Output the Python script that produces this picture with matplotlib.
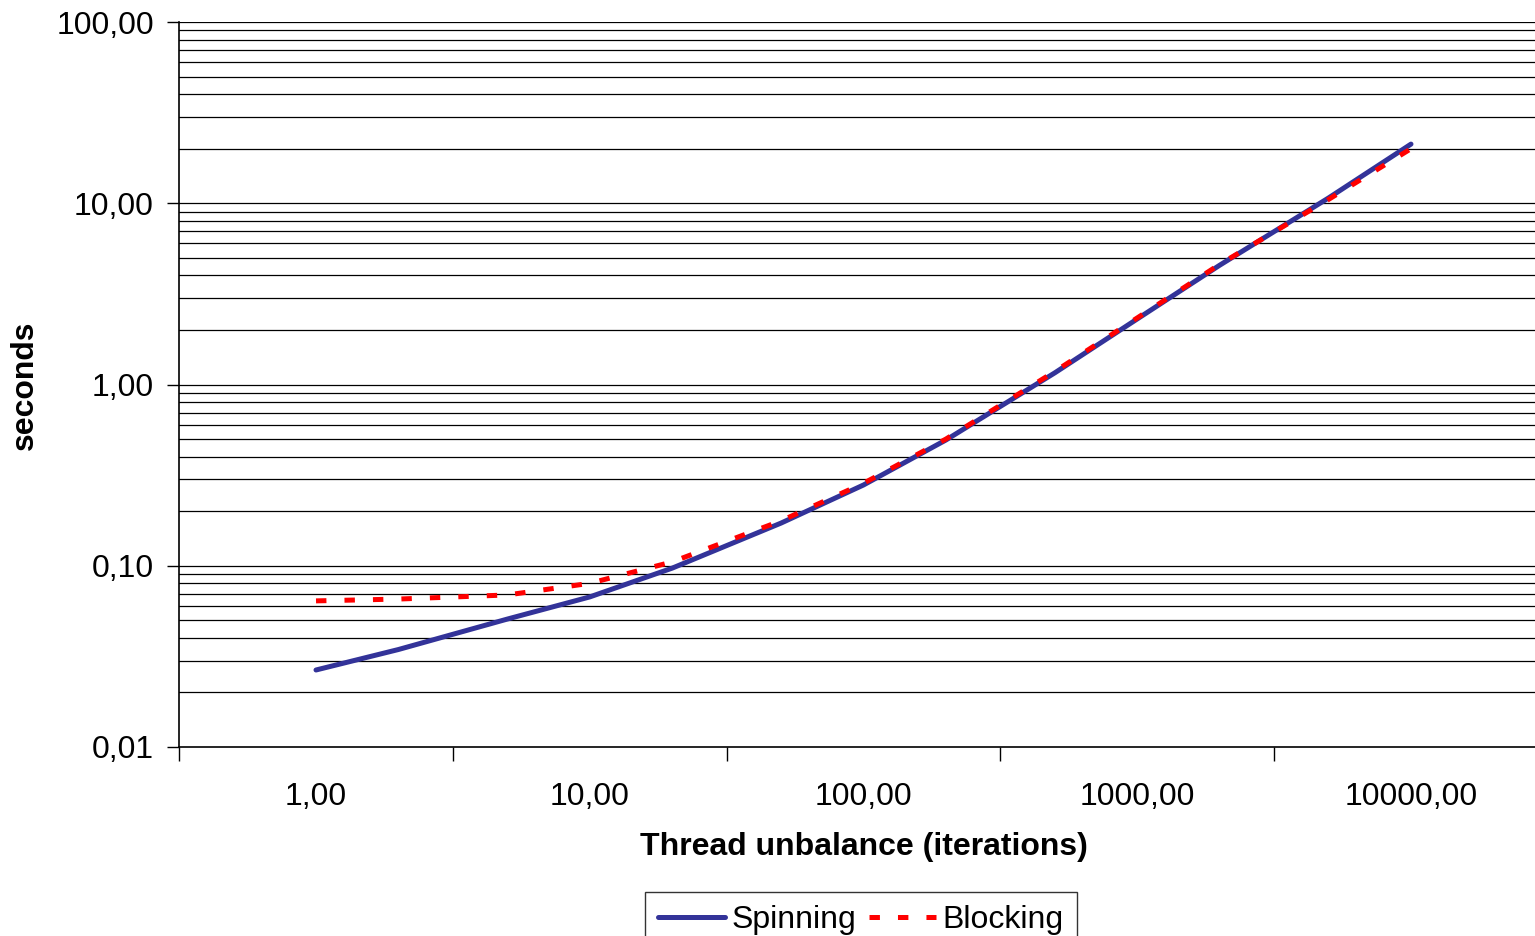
import matplotlib
matplotlib.use("Agg")
import matplotlib.pyplot as plt
import matplotlib.ticker as mticker
import numpy as np

# ---- data ----
iterations = [1, 2, 5, 10, 20, 50, 100, 200, 500, 1000, 2000, 5000, 10000]
spinning = [0.0266, 0.0345, 0.0508, 0.0673, 0.097, 0.172, 0.279, 0.494, 1.16, 2.3, 4.55, 10.7, 21.2]
blocking = [0.064, 0.0655, 0.069, 0.080, 0.105, 0.177, 0.285, 0.50, 1.18, 2.33, 4.6, 10.5, 20.0]
x_labels = ["1,00", "10,00", "100,00", "1000,00", "10000,00"]
y_labels = ["0,01", "0,10", "1,00", "10,00", "100,00"]
series_names = ["Spinning", "Blocking"]

plt.rcParams['font.family'] = ['Liberation Sans', 'DejaVu Sans']
plt.rcParams['lines.scale_dashes'] = False

W, H = 1535, 936
FS = 23
fig = plt.figure(figsize=(W / 100, H / 100), dpi=100)
ax = fig.add_axes([179 / W, 1 - 747 / H, (W - 179) / W, (747 - 22) / H])

ax.set_xscale('log')
ax.set_yscale('log')
ax.set_xlim(10 ** -0.5005, 10 ** 4.453)
ax.set_ylim(0.01, 100)

# gridlines: every integer multiple
for dec in [0.01, 0.1, 1, 10]:
    for m in range(1, 10):
        v = dec * m
        if v <= 0.01:
            continue
        ax.axhline(v, color='black', lw=0.9, zorder=1)
ax.axhline(100, color='black', lw=0.9, zorder=1)

ax.plot(iterations, spinning, color='#333399', lw=3.6, solid_capstyle='round',
        label=series_names[0], zorder=3)
ax.plot(iterations, blocking, color='#ff0000', lw=3.6, linestyle=(0, (7.5, 13)),
        dash_capstyle='butt', label=series_names[1], zorder=4)

# y ticks
ax.yaxis.set_major_locator(mticker.FixedLocator([0.01, 0.1, 1, 10, 100]))
ax.yaxis.set_major_formatter(mticker.FixedFormatter(y_labels))
ax.yaxis.set_minor_locator(mticker.NullLocator())
ax.tick_params(axis='y', which='major', direction='out', length=9, width=1,
               pad=9, labelsize=FS, color='black')

# x ticks: labels at decades (no tick mark), tick marks at half decades
ax.xaxis.set_major_locator(mticker.FixedLocator([1, 10, 100, 1000, 10000]))
ax.xaxis.set_major_formatter(mticker.FixedFormatter(x_labels))
ax.xaxis.set_minor_locator(mticker.FixedLocator([10 ** (k + 0.5) for k in range(-1, 4)]))
ax.xaxis.set_minor_formatter(mticker.NullFormatter())
ax.tick_params(axis='x', which='major', length=0, pad=25, labelsize=FS)
ax.tick_params(axis='x', which='minor', direction='out', length=10, width=1, color='black')

for s in ['top', 'right']:
    ax.spines[s].set_visible(False)
for s in ['left', 'bottom']:
    ax.spines[s].set_color('black')
    ax.spines[s].set_linewidth(1.2)

fig.text(864 / W, 1 - 847 / H, "Thread unbalance (iterations)", ha='center', va='center',
         fontsize=FS, fontweight='bold')
fig.text(25 / W, 1 - 385 / H, "seconds", ha='center', va='center', rotation=90,
         fontsize=FS, fontweight='bold')

leg = fig.legend(loc='upper center', bbox_to_anchor=(861 / W, 1 - 892 / H), ncol=2,
                 fontsize=FS, frameon=True, fancybox=False, handlelength=2.1,
                 handletextpad=0.2, columnspacing=0.4, borderpad=0.4, borderaxespad=0)
leg.get_frame().set_edgecolor('black')
leg.get_frame().set_linewidth(1.0)

fig.savefig("out.png", dpi=100)
